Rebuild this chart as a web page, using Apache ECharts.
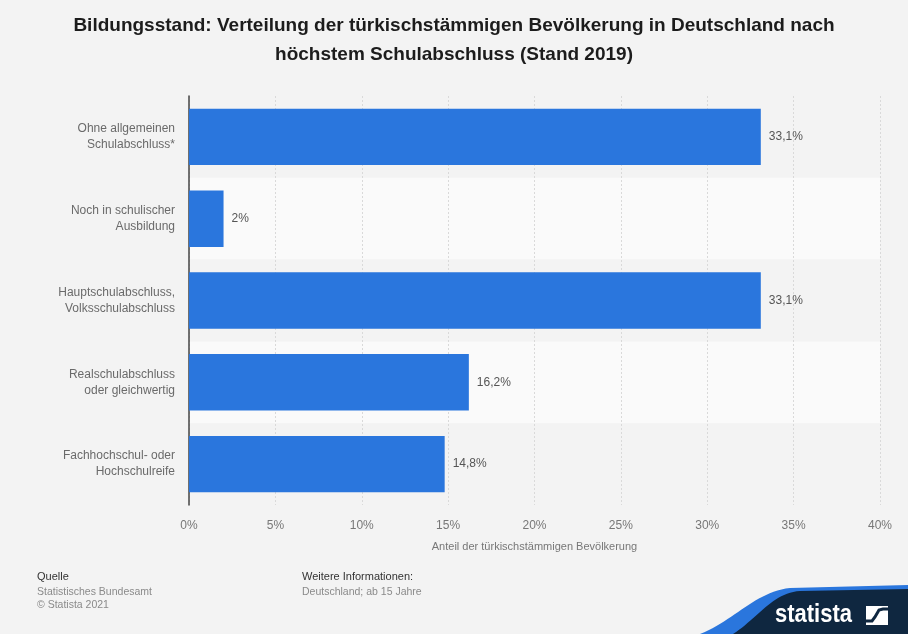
<!DOCTYPE html>
<html lang="de">
<head>
<meta charset="utf-8">
<title>Bildungsstand</title>
<script src="https://cdn.jsdelivr.net/npm/echarts@6/dist/echarts.min.js"></script>
<style>
  html, body { margin: 0; padding: 0; background: #f3f3f3; }
  #chart { width: 908px; height: 634px; }
</style>
</head>
<body>
<div id="chart"></div>
<script>
// Schulabschlüsse (von oben nach unten)
const categories = [
  'Ohne allgemeinen\nSchulabschluss*',
  'Noch in schulischer\nAusbildung',
  'Hauptschulabschluss,\nVolksschulabschluss',
  'Realschulabschluss\noder gleichwertig',
  'Fachhochschul- oder\nHochschulreife'
];
// Anteil in Prozent
const shares = [33.1, 2, 33.1, 16.2, 14.8];
const axisMax = 40;
const axisStep = 5;

const titleLines = [
  'Bildungsstand: Verteilung der türkischstämmigen Bevölkerung in Deutschland nach',
  'höchstem Schulabschluss (Stand 2019)'
];
const axisTitle = 'Anteil der türkischstämmigen Bevölkerung';
const sourceLines = ['Statistisches Bundesamt', '© Statista 2021'];
const infoLines = ['Deutschland; ab 15 Jahre'];

const fmt = v => String(v).replace('.', ',') + '%';
const FONT = '"Liberation Sans", Arial, sans-serif';

// Punkte einer kubischen Bézierkurve für die Logo-Fläche
function bezierPoints(p0, p1, p2, p3, n) {
  const pts = [];
  for (let i = 0; i <= n; i++) {
    const t = i / n, u = 1 - t;
    pts.push([
      u * u * u * p0[0] + 3 * u * u * t * p1[0] + 3 * u * t * t * p2[0] + t * t * t * p3[0],
      u * u * u * p0[1] + 3 * u * u * t * p1[1] + 3 * u * t * t * p2[1] + t * t * t * p3[1]
    ]);
  }
  return pts;
}
const swooshBlue = bezierPoints([700, 634], [735, 620], [755, 592], [790, 588], 24)
  .concat([[908, 585], [908, 634]]);
const swooshNavy = bezierPoints([733, 634], [758, 618], [772, 593], [800, 591], 24)
  .concat([[908, 589], [908, 634]]);

const chart = echarts.init(document.getElementById('chart'));
chart.setOption({
  backgroundColor: '#f3f3f3',
  animation: false,
  textStyle: { fontFamily: FONT },
  title: {
    text: titleLines.join('\n'),
    left: 'center',
    top: 6,
    textStyle: {
      fontFamily: FONT,
      fontSize: 19,
      fontWeight: 'bold',
      color: '#1c1c1c',
      lineHeight: 29
    }
  },
  grid: { left: 189, right: 28, top: 96, bottom: 129 },
  xAxis: {
    type: 'value',
    min: 0,
    max: axisMax,
    interval: axisStep,
    name: axisTitle,
    nameLocation: 'middle',
    nameGap: 36,
    nameTextStyle: { color: '#777', fontSize: 11 },
    axisLine: { show: false },
    axisTick: { show: false },
    axisLabel: {
      color: '#777',
      fontSize: 12,
      margin: 15,
      formatter: v => v + '%'
    },
    splitLine: {
      show: true,
      lineStyle: { color: '#d9d9d9', type: [2, 2], width: 1 }
    }
  },
  yAxis: {
    type: 'category',
    data: categories,
    inverse: true,
    axisLine: { show: true, lineStyle: { color: '#444', width: 1.5 } },
    axisTick: { show: false },
    axisLabel: {
      color: '#6a6a6a',
      fontSize: 12,
      lineHeight: 16,
      margin: 14,
      align: 'right'
    },
    splitArea: {
      show: true,
      areaStyle: { color: ['#f3f3f3', '#fafafa'] }
    }
  },
  series: [{
    type: 'bar',
    data: shares,
    barCategoryGap: '31%',
    itemStyle: { color: '#2a76dd' },
    label: {
      show: true,
      position: 'right',
      distance: 8,
      color: '#555',
      fontSize: 12,
      formatter: p => fmt(p.value)
    }
  }],
  graphic: [
    // Fußzeile: Quelle
    { type: 'text', x: 37, y: 571,
      style: { text: 'Quelle', fill: '#333', font: '11px ' + FONT } },
    { type: 'text', x: 37, y: 585,
      style: { text: sourceLines.join('\n'), fill: '#8a8a8a', font: '10.5px ' + FONT, lineHeight: 13.5 } },
    // Fußzeile: weitere Informationen
    { type: 'text', x: 302, y: 571,
      style: { text: 'Weitere Informationen:', fill: '#333', font: '11px ' + FONT } },
    { type: 'text', x: 302, y: 585,
      style: { text: infoLines.join('\n'), fill: '#8a8a8a', font: '10.5px ' + FONT, lineHeight: 13.5 } },
    // Logo: blauer Bogen und dunkle Fläche
    { type: 'polygon', shape: { points: swooshBlue }, style: { fill: '#2a76dd' } },
    { type: 'polygon', shape: { points: swooshNavy }, style: { fill: '#0f2740' } },
    { type: 'text', x: 775, y: 603, scaleX: 0.88,
      style: { text: 'statista', fill: '#ffffff', font: 'bold 25px ' + FONT } },
    { type: 'rect', shape: { x: 866, y: 606, width: 22, height: 19 }, style: { fill: '#ffffff' } },
    { type: 'polyline', shape: { points: [[866, 621], [872, 621], [875, 617], [879, 610], [883, 609], [888, 609]] },
      style: { fill: 'none', stroke: '#0f2740', lineWidth: 3 } }
  ]
});
</script>
</body>
</html>
